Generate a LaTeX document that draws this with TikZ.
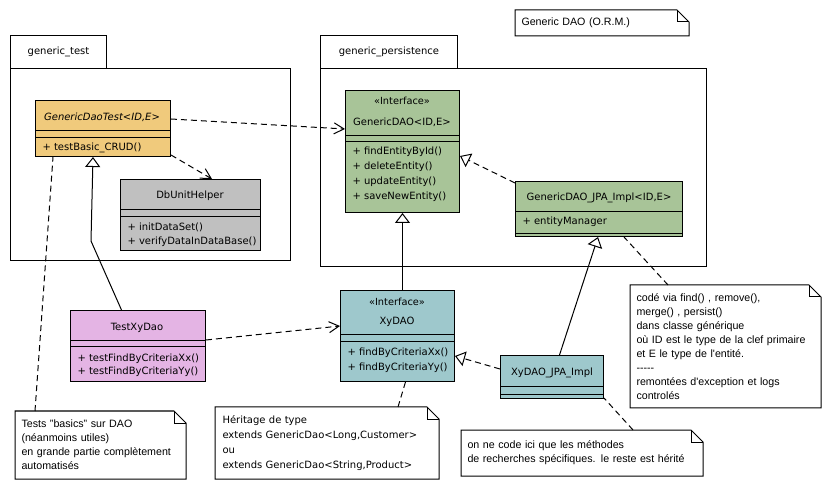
\documentclass[tikz,border=0pt]{standalone}
\usepackage{fontspec}
\setmainfont{Liberation Sans}
\newfontfamily\umlfont{DejaVu Sans}
\usetikzlibrary{arrows.meta}

\definecolor{testorange}{RGB}{240,202,124}
\definecolor{helpergray}{RGB}{192,192,192}
\definecolor{daogreen}{RGB}{168,196,152}
\definecolor{testpink}{RGB}{228,180,228}
\definecolor{xyteal}{RGB}{158,200,204}

\tikzset{every picture/.style={line width=1pt}}
\tikzset{
  pkg/.style={draw, anchor=north west, inner sep=0pt, font=\umlfont\fontsize{10}{12}\selectfont},
  classbox/.style={draw, anchor=north west, inner sep=0pt},
  umltext/.style={inner sep=0pt, font=\umlfont\fontsize{10}{12}\selectfont},
  stereo/.style={inner sep=0pt, font=\umlfont\fontsize{9.8}{11}\selectfont},
  member/.style={umltext, anchor=west},
  notebox/.style={anchor=north west, align=left, inner xsep=6pt, inner ysep=0pt,
    font=\fontsize{10.67}{14}\selectfont},
  dashline/.style={dash pattern=on 6pt off 4pt},
  dep/.style={dashline, -{Straight Barb[length=10pt,width=11pt]}},
  gen/.style={-{Triangle[fill=white,length=10pt,width=15pt]}},
  real/.style={dashline, gen}
}

% note outline with folded corner (yshift runs downwards here, yscale=-1)
\newcommand\notefold[1]{%
  \draw (#1.north west) -- ([xshift=-12pt]#1.north east) -- ([yshift=12pt]#1.north east)
    -- (#1.south east) -- (#1.south west) -- cycle;
  \draw ([xshift=-12pt]#1.north east) -- ([xshift=-12pt,yshift=12pt]#1.north east)
    -- ([yshift=12pt]#1.north east);}

\begin{document}
\begin{tikzpicture}[x=1pt,y=1pt,yscale=-1]
\useasboundingbox (0,0) rectangle (831,489);

% packages
\node [pkg, minimum width=96pt, minimum height=33pt] (tabTest) at (10,35) {generic\_test};
\node [pkg, minimum width=280pt, minimum height=192pt] (pkgTest) at (10,68) {};
\node [pkg, minimum width=137pt, minimum height=33pt] (tabPers) at (320,35) {generic\_persistence};
\node [pkg, minimum width=386pt, minimum height=198pt] (pkgPers) at (320,68) {};

% GenericDaoTest
\node [classbox, fill=testorange, minimum width=135pt, minimum height=56pt] (gdt) at (35,100) {};
\draw (gdt.west |- 0,131) -- (gdt.east |- 0,131) ;
\draw (gdt.west |- 0,138) -- (gdt.east |- 0,138) ;
\node [umltext, font=\umlfont\itshape\fontsize{10}{12}\selectfont] (gdtName) at (102,117) {GenericDaoTest<ID,E>};
\node [member] (gdtM1) at (42,148) {+ testBasic\_CRUD()};

% DbUnitHelper
\node [classbox, fill=helpergray, minimum width=140pt, minimum height=71pt] (dbu) at (120,179) {};
\draw (dbu.west |- 0,210) -- (dbu.east |- 0,210) ;
\draw (dbu.west |- 0,217) -- (dbu.east |- 0,217) ;
\node [umltext] (dbuName) at (190,196) {DbUnitHelper};
\node [member] (dbuM1) at (127,227) {+ initDataSet()};
\node [member] (dbuM2) at (127,242) {+ verifyDataInDataBase()};

% GenericDAO
\node [classbox, fill=daogreen, minimum width=114pt, minimum height=122pt] (gdao) at (345,90) {};
\draw (gdao.west |- 0,136) -- (gdao.east |- 0,136) ;
\draw (gdao.west |- 0,142) -- (gdao.east |- 0,142) ;
\node [stereo] (gdaoStereo) at (402,101) {«Interface»};
\node [umltext] (gdaoName) at (402,122) {GenericDAO<ID,E>};
\node [member] (gdaoM1) at (352,152) {+ findEntityById()};
\node [member] (gdaoM2) at (352,167) {+ deleteEntity()};
\node [member] (gdaoM3) at (352,182) {+ updateEntity()};
\node [member] (gdaoM4) at (352,197) {+ saveNewEntity()};

% GenericDAO_JPA_Impl
\node [classbox, fill=daogreen, minimum width=167pt, minimum height=55pt] (gjpa) at (515,181) {};
\draw (gjpa.west |- 0,212) -- (gjpa.east |- 0,212) ;
\draw (gjpa.west |- 0,234) -- (gjpa.east |- 0,234) ;
\node [umltext] (gjpaName) at (599,198) {GenericDAO\_JPA\_Impl<ID,E>};
\node [member] (gjpaA1) at (522,222) {+ entityManager};

% TestXyDao
\node [classbox, fill=testpink, minimum width=135pt, minimum height=71pt] (txy) at (70,310) {};
\draw (txy.west |- 0,341) -- (txy.east |- 0,341) ;
\draw (txy.west |- 0,347) -- (txy.east |- 0,347) ;
\node [umltext] (txyName) at (137,328) {TestXyDao};
\node [member] (txyM1) at (77,359) {+ testFindByCriteriaXx()};
\node [member] (txyM2) at (77,372) {+ testFindByCriteriaYy()};

% XyDAO
\node [classbox, fill=xyteal, minimum width=114pt, minimum height=91pt] (xydao) at (340,290) {};
\draw (xydao.west |- 0,335) -- (xydao.east |- 0,335) ;
\draw (xydao.west |- 0,342) -- (xydao.east |- 0,342) ;
\node [stereo] (xydaoStereo) at (397,302) {«Interface»};
\node [umltext] (xydaoName) at (397,322) {XyDAO};
\node [member] (xydaoM1) at (347,353) {+ findByCriteriaXx()};
\node [member] (xydaoM2) at (347,368) {+ findByCriteriaYy()};

% XyDAO_JPA_Impl
\node [classbox, fill=xyteal, minimum width=103pt, minimum height=43pt] (xjpa) at (500,355) {};
\draw (xjpa.west |- 0,387) -- (xjpa.east |- 0,387) ;
\draw (xjpa.west |- 0,395) -- (xjpa.east |- 0,395) ;
\node [umltext] (xjpaName) at (552,373) {XyDAO\_JPA\_Impl};

% notes
\node [notebox, text width=161pt, minimum height=25pt] (nTitle) at (515,10) {Generic DAO (O.R.M.)};
\notefold{nTitle}
\node [notebox, text width=178pt, minimum height=122pt] (nCode) at (630,285) {codé via find() , remove(),\\
merge() , persist()\\
dans classe générique\\
où ID est le type de la clef primaire\\
et E le type de l\textquotesingle entité.\\
-{}-{}-{}-{}-\\
remontées d\textquotesingle exception et logs\\
controlés};
\notefold{nCode}
\node [notebox, text width=158pt, minimum height=67pt] (nTests) at (15,411) {Tests "basics" sur DAO\\
(néanmoins utiles)\\
en grande partie complètement\\
automatisés};
\notefold{nTests}
\node [notebox, inner xsep=7pt, text width=209pt, minimum height=71pt,
  font=\umlfont\fontsize{10}{15}\selectfont] (nHerit) at (215,407) {Héritage de type\\
extends GenericDao<Long,Customer>\\
ou\\
extends GenericDao<String,Product>};
\notefold{nHerit}
\node [notebox, text width=229pt, minimum height=45pt] (nSearch) at (461,430) {on ne code ici que les méthodes\\
de recherches spécifiques. le reste est hérité};
\notefold{nSearch}

% dependencies
\draw [dep] ([yshift=19pt]gdt.north east) -- ([yshift=39pt]gdao.north west) ;
\draw [dep] ([yshift=-2pt]gdt.south east) -- ([xshift=92pt]dbu.north west) ;
\draw [dep] ([yshift=30pt]txy.north east) -- ([yshift=36pt]xydao.north west) ;

% generalizations and realizations
\draw [gen] ([xshift=-16.5pt]txy.north) -- (91,241) -- ([xshift=58pt]gdt.south west) ;
\draw [gen] (gdao.south |- xydao.north) -- (gdao.south) ;
\draw [gen] ([xshift=7.5pt]xjpa.north) -- ([xshift=-85pt]gjpa.south east) ;
\draw [real] ([yshift=2pt]gjpa.north west) -- ([yshift=66pt]gdao.north east) ;
\draw [real] ([yshift=14pt]xjpa.north west) -- ([yshift=66pt]xydao.north east) ;

% note links
\draw [dashline] ([xshift=20pt]nTests.north west) -- ([xshift=18pt]gdt.south west) ;
\draw [dashline] ([xshift=38pt]nCode.north west) -- ([xshift=-59pt]gjpa.south east) ;
\draw [dashline] ([xshift=183pt]nHerit.north west) -- ([xshift=8pt]xydao.south) ;
\draw [dashline] ([xshift=172pt]nSearch.north west) -- ([yshift=-1pt]xjpa.south east) ;

\end{tikzpicture}
\end{document}
